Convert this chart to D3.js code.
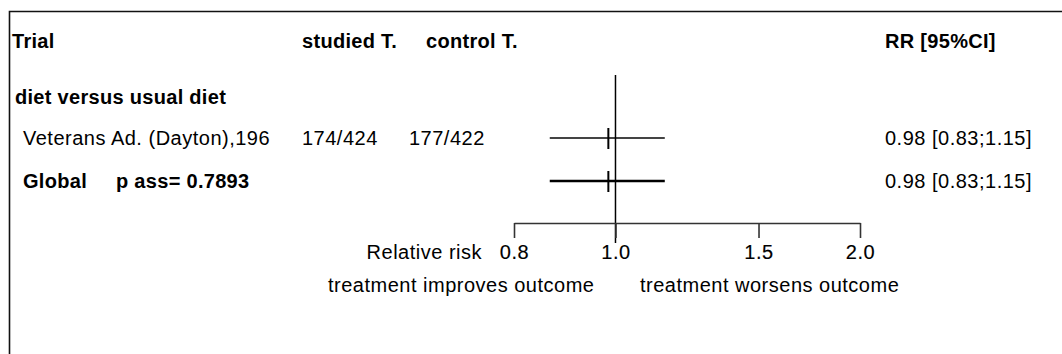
<!DOCTYPE html>
<meta charset="utf-8">
<style>
    body { margin: 0; background: #fff; }
    svg { display: block; font-family: "Liberation Sans", Arial, sans-serif; }
    text { font-size: 20px; letter-spacing: 0.5px; fill: #000; }
    .bold { font-weight: bold; letter-spacing: 0.3px; }
</style>

<script src="https://d3js.org/d3.v7.min.js"></script>

<svg id="forest" width="1062" height="354"></svg>

<script>

// Data

var headers = ["Trial", "studied T.", "control T.", "RR [95%CI]"];
var subgroup = "diet versus usual diet";

var trials  = ["Veterans Ad. (Dayton),196"];
var studied = ["174/424"];
var control = ["177/422"];
var rr      = [0.98];
var lower   = [0.83];
var upper   = [1.15];

var globalRR = [0.98, 0.83, 1.15];
var globalP  = 0.7893;

var tickValues = [0.75, 1, 1.5, 2];
var axisLabel  = "Relative risk";
var leftNote   = "treatment improves outcome";
var rightNote  = "treatment worsens outcome";


// Layout

var svg = d3.select('svg#forest');

var colTrial = 12, colStudied = 302, colControl = 409, colRR = 885;
var yHeader = 41, ySub = 97, yFirst = 138, rowStep = 43;
var axisY = 223;

var x = d3.scaleLog()
    .domain ([0.75, 2])
    .range ([514, 860]);

var rowY = function (i) { return yFirst + i * rowStep; };
var fmt = d3.format(".2f");
var ciText = function (m, l, u) { return fmt(m) + ' [' + fmt(l) + ';' + fmt(u) + ']'; };

// frame (open on right and bottom)
svg.append('path')
    .attr ('d', 'M 9.5 354 V 11.5 H 1062')
    .attr ('fill', 'none')
    .attr ('stroke', '#111')
    .attr ('stroke-width', 1.6);

// headers
var hx = [colTrial, colStudied, 426, colRR];
svg.selectAll ('text.header')
    .data (headers)
    .enter().append ('text')
    .attr ('class', 'header bold')
    .attr ('x', function (d, i) { return hx[i]; })
    .attr ('y', yHeader)
    .attr ('dy', '0.35em')
    .text (function (d) { return d; });

svg.append ('text')
    .attr ('class', 'bold')
    .attr ('x', 15)
    .attr ('y', ySub)
    .attr ('dy', '0.35em')
    .text (subgroup);

// trial rows
var rows = svg.selectAll ('g.row')
    .data (trials)
    .enter().append ('g')
    .attr ('class', 'row')
    .attr ('transform', function (d, i) { return 'translate(0,' + rowY(i) + ')'; });

rows.append ('text').attr ('x', 23).attr ('dy', '0.35em').text (function (d) { return d; });
rows.append ('text').attr ('x', colStudied).attr ('dy', '0.35em').text (function (d, i) { return studied[i]; });
rows.append ('text').attr ('x', colControl).attr ('dy', '0.35em').text (function (d, i) { return control[i]; });
rows.append ('text').attr ('x', colRR).attr ('dy', '0.35em')
    .text (function (d, i) { return ciText(rr[i], lower[i], upper[i]); });

rows.append ('line')
    .attr ('x1', function (d, i) { return x(lower[i]); })
    .attr ('x2', function (d, i) { return x(upper[i]); })
    .attr ('stroke', '#444')
    .attr ('stroke-width', 1.8);

rows.append ('line')
    .attr ('x1', function (d, i) { return x(rr[i]); })
    .attr ('x2', function (d, i) { return x(rr[i]); })
    .attr ('y1', -10).attr ('y2', 11)
    .attr ('stroke', '#000')
    .attr ('stroke-width', 2);

// global row
var gy = rowY(trials.length);
var g = svg.append ('g').attr ('transform', 'translate(0,' + gy + ')');

g.append ('text').attr ('class', 'bold').attr ('x', 23).attr ('dy', '0.35em').text ('Global');
g.append ('text').attr ('class', 'bold').attr ('x', 116).attr ('dy', '0.35em').text ('p ass= ' + globalP);
g.append ('text').attr ('x', colRR).attr ('dy', '0.35em')
    .text (ciText(globalRR[0], globalRR[1], globalRR[2]));

g.append ('line')
    .attr ('x1', x(globalRR[1]))
    .attr ('x2', x(globalRR[2]))
    .attr ('stroke', '#000')
    .attr ('stroke-width', 2.5);

g.append ('line')
    .attr ('x1', x(globalRR[0])).attr ('x2', x(globalRR[0]))
    .attr ('y1', -10).attr ('y2', 11)
    .attr ('stroke', '#000')
    .attr ('stroke-width', 2);

// reference line at 1
svg.append ('line')
    .attr ('x1', x(1)).attr ('x2', x(1))
    .attr ('y1', 75).attr ('y2', 243)
    .attr ('stroke', '#000')
    .attr ('stroke-width', 1.5);

// axis
var axis = svg.append ('g')
    .attr ('transform', 'translate(0,' + axisY + ')')
    .call (d3.axisBottom(x)
        .tickValues (tickValues)
        .tickFormat (d3.format('.1f'))
        .tickSize (15)
        .tickSizeOuter (0)
        .tickPadding (7));

axis.select ('.domain').attr ('stroke', '#333').attr ('stroke-width', 1.6);
axis.selectAll ('.tick line').attr ('stroke', '#333').attr ('stroke-width', 1.6);
axis.selectAll ('.tick text')
    .style ('font-size', '20px')
    .style ('font-family', '"Liberation Sans", Arial, sans-serif')
    .attr ('fill', '#000')
    .attr ('stroke', '#000')
    .attr ('stroke-width', 0.15);

svg.append ('text')
    .attr ('x', 482).attr ('y', 252).attr ('dy', '0.35em')
    .attr ('text-anchor', 'end')
    .text (axisLabel);

svg.append ('text')
    .attr ('x', 328).attr ('y', 285).attr ('dy', '0.35em')
    .text (leftNote);

svg.append ('text')
    .attr ('x', 640).attr ('y', 285).attr ('dy', '0.35em')
    .text (rightNote);

</script>
